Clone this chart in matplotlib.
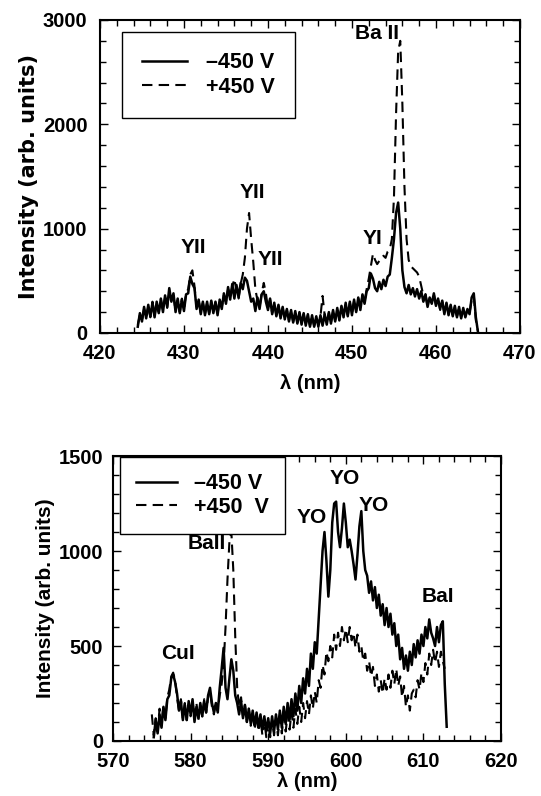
import numpy as np
import matplotlib
matplotlib.use("Agg")
import matplotlib.pyplot as plt
from matplotlib.ticker import MultipleLocator

plt.rcParams['font.family'] = ['Liberation Sans', 'DejaVu Sans']
plt.rcParams['font.weight'] = 'bold'

# ---------------- data: top panel (420-470 nm), sampled every 0.25 nm ----------------
top_start, top_end = 424.5, 465.0
top_neg = [60, 190, 110, 250, 140, 270, 160, 290, 150, 300, 190, 330, 200, 360, 250, 430,
           300, 380, 200, 330, 190, 320, 210, 370, 380, 540, 470, 430, 230, 320, 180, 300,
           170, 300, 180, 310, 190, 300, 170, 320, 230, 380, 280, 440, 320, 470, 330, 460,
           340, 480, 420, 530, 500, 400, 300, 330, 210, 340, 230, 370, 400, 300, 220, 330,
           180, 290, 160, 270, 140, 250, 130, 230, 110, 220, 100, 210, 90, 200, 80, 190,
           70, 180, 60, 170, 60, 160, 60, 170, 70, 180, 80, 200, 90, 220, 110, 240,
           120, 260, 150, 290, 160, 300, 170, 320, 200, 340, 220, 370, 280, 400, 430, 570,
           520, 430, 400, 490, 420, 510, 450, 540, 560, 720, 900, 1150, 1250, 1000, 600, 440,
           380, 460, 370, 430, 350, 420, 330, 400, 300, 370, 250, 340, 280, 380, 260, 330,
           230, 310, 180, 290, 170, 270, 160, 260, 150, 250, 140, 240, 150, 230, 180, 340,
           380, 150, 10]
top_pos = [80, 170, 120, 230, 160, 250, 150, 300, 170, 280, 200, 320, 220, 340, 240, 400,
           310, 360, 210, 320, 200, 330, 230, 380, 420, 560, 600, 450, 250, 310, 190, 290,
           180, 290, 190, 300, 200, 290, 180, 330, 250, 360, 300, 420, 350, 440, 520, 400,
           330, 470, 560, 720, 1000, 1150, 900, 680, 420, 310, 250, 380, 480, 380, 240, 320,
           190, 280, 170, 260, 150, 240, 140, 220, 120, 210, 110, 200, 100, 190, 90, 180,
           80, 170, 70, 160, 70, 150, 80, 160, 355, 170, 90, 190, 100, 210, 120, 230,
           130, 250, 160, 280, 170, 290, 180, 310, 210, 330, 240, 360, 300, 420, 520, 640,
           760, 700, 660, 690, 700, 740, 720, 780, 800, 900, 1300, 2100, 2700, 2800, 2200, 1400,
           900, 700, 640, 620, 600, 580, 540, 450, 360, 370, 260, 330, 290, 370, 270, 320,
           220, 300, 190, 280, 180, 260, 170, 250, 160, 240, 150, 230, 160, 220, 190, 320,
           360, 120, 20]

# ---------------- data: bottom panel (570-620 nm), sampled every 0.25 nm ----------------
bot_neg_start, bot_neg_end = 575.25, 613.0
bot_neg = [20, 110, 40, 140, 70, 180, 110, 220, 240, 330, 350, 310, 250, 160, 210, 110,
           190, 110, 210, 140, 220, 100, 180, 120, 200, 130, 210, 150, 240, 280, 200, 150,
           200, 150, 280, 380, 490, 280, 220, 330, 430, 370, 240, 200, 140, 210, 120, 190,
           100, 170, 90, 160, 80, 150, 70, 140, 60, 130, 50, 120, 40, 130, 50, 140,
           60, 160, 70, 180, 90, 200, 110, 220, 130, 250, 160, 290, 200, 330, 250, 380,
           290, 460, 380, 520, 460, 640, 830, 1000, 1100, 950, 760, 900, 1150, 1250, 1260, 1100,
           1020, 1120, 1250, 1150, 1020, 1060, 1000, 930, 850, 980, 1130, 1210, 1000, 900, 870, 780,
           840, 740, 810, 700, 770, 660, 720, 610, 700, 600, 670, 560, 620, 500, 560, 430,
           490, 380, 450, 370, 470, 400, 510, 440, 530, 460, 560, 500, 600, 540, 640, 570,
           540, 500, 600, 520, 610, 630, 300, 75]
bot_pos_start, bot_pos_end = 575.0, 612.75
bot_pos = [140, 30, 120, 50, 170, 80, 190, 120, 230, 270, 340, 360, 320, 230, 160, 220,
           120, 200, 110, 190, 130, 210, 120, 200, 110, 190, 130, 220, 150, 230, 260, 180,
           140, 210, 160, 240, 300, 400, 600, 850, 1050, 1100, 900, 550, 280, 180, 230, 130,
           190, 100, 170, 80, 150, 60, 140, 50, 120, 30, 110, 20, 100, 20, 110, 30,
           110, 30, 120, 40, 130, 50, 140, 60, 150, 70, 170, 90, 180, 100, 200, 120,
           210, 140, 240, 170, 260, 200, 320, 280, 400, 350, 470, 420, 500, 440, 560, 480,
           570, 500, 600, 530, 590, 520, 600, 530, 570, 490, 560, 470, 500, 420, 460, 370,
           420, 340, 390, 290, 350, 260, 320, 250, 330, 270, 350, 280, 370, 300, 380, 290,
           340, 230, 290, 180, 240, 160, 250, 270, 230, 320, 270, 360, 310, 410, 350, 460,
           400, 480, 410, 470, 390, 470, 420, 380]

top_labels = [("YII", 431.1, 815), ("YII", 438.1, 1342), ("YII", 440.3, 700),
              ("Ba II", 453.0, 2875), ("YI", 452.4, 910)]
bot_labels = [("CuI", 578.4, 463), ("BaII", 582.1, 1040), ("YO", 595.6, 1174),
              ("YO", 599.9, 1384), ("YO", 603.6, 1242), ("BaI", 611.8, 758)]

legend_top = ["\u2013450 V", "+450 V"]
legend_bot = ["\u2013450 V", "+450  V"]

# ---------------- figure ----------------
fig = plt.figure(figsize=(5.41, 7.96), dpi=100)
ax1 = fig.add_axes([0.1848, 0.5817, 0.7763, 0.3932])
ax2 = fig.add_axes([0.2089, 0.0691, 0.7172, 0.3580])

FS = 14.5
DASH = (0, (5, 3))


def style(ax, xlim, ylim, xmaj, xmin, ymaj, ymin, ypad, xlabpad, ylab_kw):
    ax.set_xlim(*xlim)
    ax.set_ylim(*ylim)
    ax.xaxis.set_major_locator(MultipleLocator(xmaj))
    ax.xaxis.set_minor_locator(MultipleLocator(xmin))
    ax.yaxis.set_major_locator(MultipleLocator(ymaj))
    ax.yaxis.set_minor_locator(MultipleLocator(ymin))
    ax.tick_params(which='both', direction='in', top=True, right=True,
                   labelsize=FS, width=1.0)
    ax.tick_params(axis='x', which='both', pad=8)
    ax.tick_params(axis='y', which='both', pad=ypad)
    ax.tick_params(which='major', length=6)
    ax.tick_params(which='minor', length=4)
    for lab in ax.get_xticklabels() + ax.get_yticklabels():
        lab.set_fontweight('bold')
    for sp in ax.spines.values():
        sp.set_linewidth(1.5)
    ax.set_xlabel("\u03bb (nm)", fontsize=FS, fontweight='bold', labelpad=xlabpad)
    ax.set_ylabel("Intensity (arb. units)", fontweight='bold', **ylab_kw)


x_top_neg = np.linspace(top_start, top_end, len(top_neg))
x_top_pos = np.linspace(top_start, top_end, len(top_pos))
l1, = ax1.plot(x_top_neg, top_neg, color='black', lw=1.8, ls='-')
l2, = ax1.plot(x_top_pos, top_pos, color='black', lw=1.5, ls=DASH)
style(ax1, (420, 470), (0, 3000), 10, 2, 1000, 200, ypad=9, xlabpad=8,
      ylab_kw=dict(fontsize=15, family='DejaVu Sans', labelpad=3))
for t, x, y in top_labels:
    ax1.text(x, y, t, fontsize=FS + 0.5, fontweight='bold', ha='center', va='center')
leg1 = ax1.legend([l1, l2], legend_top, loc='upper left', bbox_to_anchor=(0.052, 0.962),
                  frameon=True, fancybox=False, edgecolor='black', framealpha=1,
                  prop={'size': FS + 1, 'weight': 'bold'}, handlelength=2.1,
                  borderpad=0.95, labelspacing=0.15, handletextpad=0.85, borderaxespad=0)
leg1.get_frame().set_linewidth(1.0)

x_bot_neg = np.linspace(bot_neg_start, bot_neg_end, len(bot_neg))
x_bot_pos = np.linspace(bot_pos_start, bot_pos_end, len(bot_pos))
m1, = ax2.plot(x_bot_neg, bot_neg, color='black', lw=1.8, ls='-')
m2, = ax2.plot(x_bot_pos, bot_pos, color='black', lw=1.5, ls=DASH)
style(ax2, (570, 620), (0, 1500), 10, 2, 500, 100, ypad=7, xlabpad=1,
      ylab_kw=dict(fontsize=15, labelpad=3))
for t, x, y in bot_labels:
    ax2.text(x, y, t, fontsize=FS + 0.5, fontweight='bold', ha='center', va='center')
leg2 = ax2.legend([m1, m2], legend_bot, loc='upper left', bbox_to_anchor=(0.018, 0.996),
                  frameon=True, fancybox=False, edgecolor='black', framealpha=1,
                  prop={'size': FS + 1, 'weight': 'bold'}, handlelength=1.9,
                  borderpad=0.75, labelspacing=0.12, handletextpad=0.8, borderaxespad=0)
leg2.get_frame().set_linewidth(1.0)

fig.savefig("out.png", dpi=100)
